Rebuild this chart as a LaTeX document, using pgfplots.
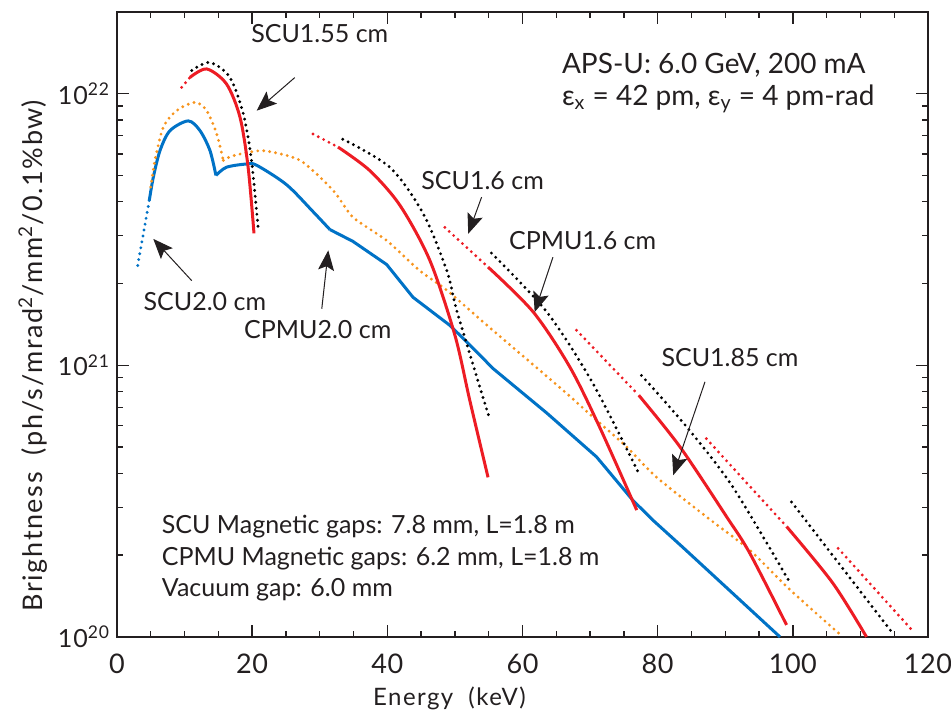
\documentclass[border=0pt]{standalone}
\usepackage{pgfplots}
\pgfplotsset{compat=1.18}
\usepackage{fontspec}
\setmainfont{Lato}
\usetikzlibrary{arrows.meta}

\definecolor{cblue}{RGB}{0,114,198}
\definecolor{cred}{RGB}{237,28,36}
\definecolor{corange}{RGB}{247,148,29}
\definecolor{ink}{RGB}{35,31,32}

\tikzset{
  solidln/.style={line width=1.5pt},
  dotln/.style={line width=1.6pt, line cap=round, dash pattern=on 0pt off 3pt},
  note/.style={font=\fontsize{12.5}{15}\selectfont, text=ink},
  pointer/.style={draw=ink, line width=0.5pt, -{Stealth[length=10pt,width=8pt,inset=2pt]}},
}

\begin{document}
\begin{tikzpicture}
\begin{axis}[
  scale only axis,
  width=405.5pt, height=312.5pt,
  xmin=0, xmax=120,
  ymode=log, ymin=1e20, ymax=2e22,
  xtick={0,20,...,120}, minor x tick num=3,
  ytick={1e20,1e21,1e22},
  yticklabels={10\textsuperscript{20},10\textsuperscript{21},10\textsuperscript{22}},
  tick align=inside,
  major tick length=6pt, minor tick length=3pt,
  axis line style={line width=0.8pt, ink},
  every tick/.style={ink, line width=0.7pt},
  yticklabel style={font=\fontsize{12.5}{14}\selectfont\addfontfeature{LetterSpace=4}, text=ink},
  xticklabel style={font=\fontsize{13.5}{15}\selectfont\addfontfeature{LetterSpace=2}, text=ink,
    /pgf/number format/assume math mode=true, yshift=-5pt},
  xlabel={Energy~~(keV)},
  ylabel={Brightness~~(ph/s/mrad\textsuperscript{2}/mm\textsuperscript{2}/0.1\%bw)},
  every axis x label/.style={at={(axis description cs:0.41,-0.099)}, anchor=center,
    font=\fontsize{12}{14}\selectfont\addfontfeature{LetterSpace=6}, text=ink},
  every axis y label/.style={at={(axis description cs:-0.1036,0.45)}, anchor=center, rotate=90,
    font=\fontsize{13.5}{15}\selectfont\addfontfeature{LetterSpace=6}, text=ink},
  clip=false,
]
% blue (2.0 cm)
\addplot[cblue, dotln] coordinates {(3.06,2.33e21) (4.78,4.05e21)};
\addplot[cblue, solidln, smooth, tension=0.5] coordinates {
  (4.78,4.05e21) (5.37,4.92e21) (6.36,6.17e21) (7.84,7.31e21) (10.55,7.94e21)
  (12.28,7.31e21) (13.76,6.17e21) (14.64,5.0e21)};
\addplot[cblue, solidln, smooth, tension=0.5] coordinates {
  (14.64,5.0e21) (16.2,5.36e21) (19.19,5.51e21)
  (20.67,5.45e21) (25.1,4.62e21) (29.0,3.68e21) (31.5,3.16e21)};
\addplot[cblue, solidln] coordinates {
  (31.5,3.16e21) (34.9,2.86e21)
  (39.9,2.35e21) (43.8,1.78e21) (49.3,1.40e21) (53.7,1.09e21) (55.6,9.75e20)
  (63.6,6.67e20) (70.96,4.60e20) (76.3,3.19e20) (79.3,2.69e20) (83.7,2.14e20)
  (98.1,1.0e20)};
% orange dotted
\addplot[corange, dotln, smooth, tension=0.5] coordinates {
  (4.99,4.53e21) (5.62,5.68e21) (6.85,7.52e21) (8.83,8.66e21) (11.54,9.29e21)
  (13.27,8.66e21) (14.75,7.11e21) (15.73,5.68e21)};
\addplot[corange, dotln, smooth, tension=0.4] coordinates {
  (15.73,5.68e21) (17.2,5.91e21) (21.6,6.17e21)
  (27.1,5.68e21) (32.0,4.4e21) (34.9,3.51e21) (39.9,2.88e21) (44.8,2.23e21)
  (48.8,1.89e21) (53.95,1.46e21) (59.6,1.107e21) (66.0,8.09e20) (70.96,6.28e20)
  (75.4,5.01e20) (79.8,3.88e20) (87.2,2.77e20) (93.6,2.09e20) (99.6,1.49e20)
  (107.4,1.0e20)};
% SCU 1.55 cm
\addplot[cred, dotln] coordinates {(9.57,1.055e22) (10.8,1.148e22)};
\addplot[cred, solidln, smooth] coordinates {
  (10.8,1.148e22) (13.27,1.233e22) (16.2,1.086e22) (18.2,8.19e21) (19.4,5.36e21) (20.27,3.06e21)};
\addplot[black, dotln, smooth] coordinates {
  (11.05,1.217e22) (13.76,1.303e22) (16.7,1.148e22) (18.7,8.41e21) (19.9,5.68e21) (20.9,3.16e21)};
% second harmonic set
\addplot[cred, dotln] coordinates {(29.0,7.11e21) (32.7,6.36e21)};
\addplot[cred, solidln, smooth] coordinates {
  (32.7,6.36e21) (37.4,5.21e21) (41.9,3.87e21) (46.3,2.43e21) (50.0,1.29e21)
  (52.2,7.43e20) (54.9,3.87e20)};
\addplot[black, dotln, smooth] coordinates {
  (33.4,6.8e21) (40.4,5.35e21) (45.3,3.62e21) (48.8,2.23e21) (50.4,1.55e21) (55.2,6.28e20)};
% CPMU 1.6 cm set
\addplot[cred, dotln] coordinates {(48.5,3.22e21) (54.9,2.30e21)};
\addplot[cred, solidln, smooth] coordinates {
  (54.9,2.30e21) (61.6,1.57e21) (67.0,9.86e20) (71.4,5.93e20) (76.9,2.93e20)};
\addplot[black, dotln, smooth] coordinates {
  (55.4,2.59e21) (63.6,1.57e21) (70.4,8.59e20) (77.1,4.05e20)};
% SCU 1.85 cm set
\addplot[cred, dotln] coordinates {(68.0,1.346e21) (77.2,7.76e20)};
\addplot[cred, solidln, smooth] coordinates {
  (77.2,7.76e20) (83.3,5.01e20) (90.2,2.77e20) (93.6,2.04e20) (99.07,1.107e20)};
\addplot[black, dotln, smooth] coordinates {
  (77.6,9.18e20) (84.3,5.93e20) (91.1,3.57e20) (99.6,1.58e20)};
% highest harmonics
\addplot[cred, dotln] coordinates {(87.2,5.37e20) (99.07,2.55e20)};
\addplot[cred, solidln, smooth] coordinates {(99.07,2.55e20) (105.9,1.58e20) (110.9,1.0e20)};
\addplot[black, dotln] coordinates {(99.8,3.14e20) (114.6,1.045e20)};
\addplot[cred, dotln] coordinates {(106.7,2.12e20) (118.0,1.035e20)};

% annotations
\node[note] at (axis cs:30.0,1.66e22) {SCU1.55 cm};
\draw[pointer] (axis cs:26.3,1.146e22) -- (axis cs:20.67,8.66e21);
\node[note] at (axis cs:54.1,4.79e21) {SCU1.6 cm};
\draw[pointer] (axis cs:53.95,4.16e21) -- (axis cs:51.97,3.05e21);
\node[note] at (axis cs:68.9,2.88e21) {CPMU1.6 cm};
\draw[pointer] (axis cs:64.5,2.50e21) -- (axis cs:61.8,1.57e21);
\node[note] at (axis cs:13.0,1.71e21) {SCU2.0 cm};
\draw[pointer] (axis cs:11.05,2.05e21) -- (axis cs:5.37,2.92e21);
\node[note] at (axis cs:29.7,1.35e21) {CPMU2.0 cm};
\draw[pointer] (axis cs:30.3,1.615e21) -- (axis cs:31.26,2.65e21);
\node[note] at (axis cs:90.7,1.07e21) {SCU1.85 cm};
\draw[pointer] (axis cs:87.0,8.69e20) -- (axis cs:82.3,3.94e20);

\node[note, anchor=west, font=\fontsize{14}{16}\selectfont] at (axis cs:64.8,1.268e22) {APS-U: 6.0 GeV, 200 mA};
\node[note, anchor=west, font=\fontsize{14}{16}\selectfont] at (axis cs:64.8,9.59e21)
  {ε\textsubscript{x} = 42 pm, ε\textsubscript{y} = 4 pm-rad};

\node[note, anchor=west] at (axis cs:5.6,2.54e20) {SCU Magnetic gaps: 7.8 mm, L=1.8 m};
\node[note, anchor=west] at (axis cs:5.6,1.95e20) {CPMU Magnetic gaps: 6.2 mm, L=1.8 m};
\node[note, anchor=west] at (axis cs:5.6,1.49e20) {Vacuum gap: 6.0 mm};
\end{axis}
\pgfresetboundingbox
\path ([shift={(-58.5pt,-37.5pt)}]current axis.south west)
  rectangle ([shift={(11.5pt,6pt)}]current axis.north east);
\end{tikzpicture}
\end{document}
